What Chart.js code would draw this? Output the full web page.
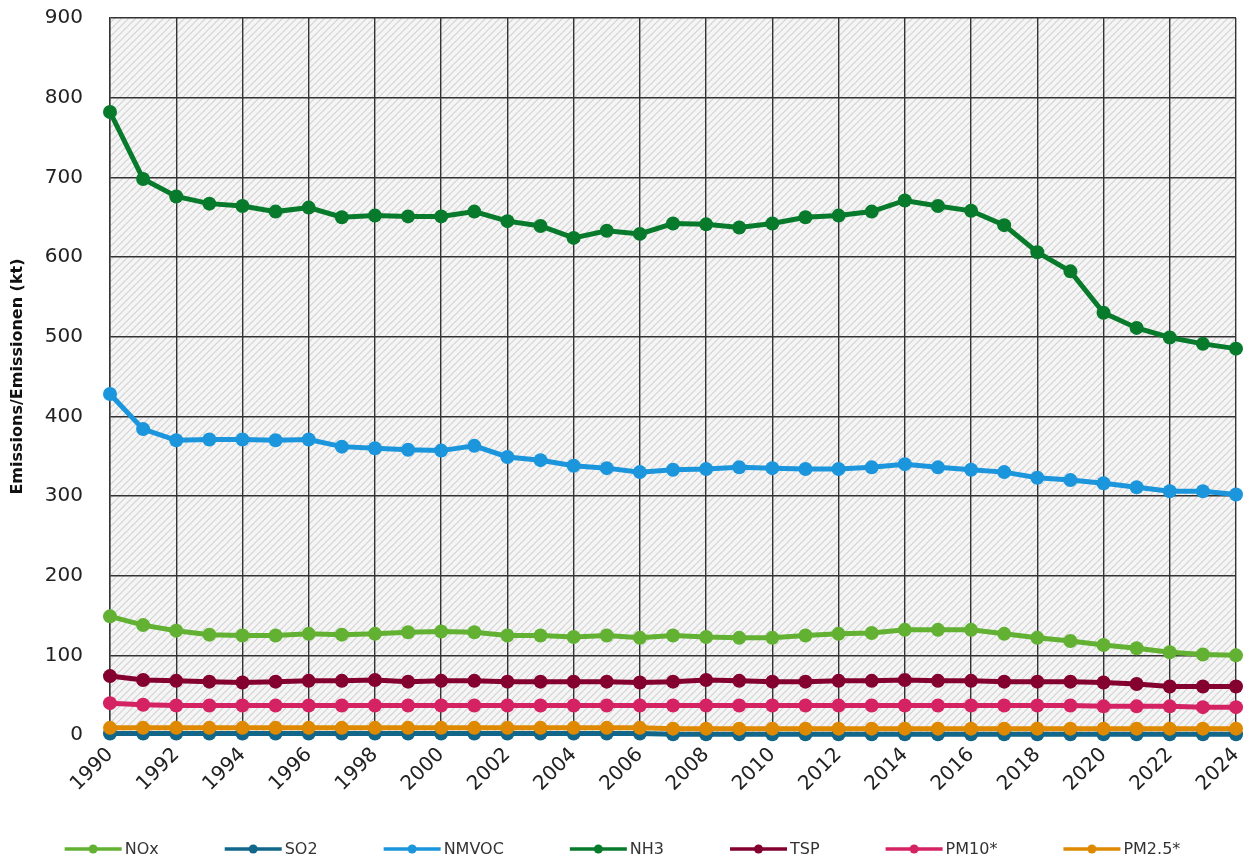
<!DOCTYPE html>
<html>
<head>
<meta charset="utf-8">
<script src="https://cdn.jsdelivr.net/npm/chart.js@4/dist/chart.umd.min.js"></script>
<style>
  html, body { margin: 0; padding: 0; background: #fff; }
  #wrap { width: 1245px; height: 860px; position: relative; }
</style>
</head>
<body>
<div id="wrap"><canvas id="chart"></canvas></div>
<script>
const years = [1990, 1991, 1992, 1993, 1994, 1995, 1996, 1997, 1998, 1999,
               2000, 2001, 2002, 2003, 2004, 2005, 2006, 2007, 2008, 2009,
               2010, 2011, 2012, 2013, 2014, 2015, 2016, 2017, 2018, 2019,
               2020, 2021, 2022, 2023, 2024];

const nox   = [149, 138, 131, 126, 125, 125, 127, 126, 127, 129, 130, 129, 125, 125, 123, 125, 122,
               125, 123, 122, 122, 125, 127, 128, 132, 132, 132, 127, 122, 118, 113, 109, 104, 101, 100];
const so2   = [2, 2, 2, 2, 2, 2, 2, 2, 2, 2, 2, 2, 2, 2, 2, 2, 2,
               1, 1, 1, 1, 1, 1, 1, 1, 1, 1, 1, 1, 1, 1, 1, 1, 1, 1];
const nmvoc = [428, 384, 370, 371, 371, 370, 371, 362, 360, 358, 357, 363, 349, 345, 338, 335, 330,
               333, 334, 336, 335, 334, 334, 336, 340, 336, 333, 330, 323, 320, 316, 311, 306, 306, 302];
const nh3   = [782, 698, 676, 667, 664, 657, 662, 650, 652, 651, 651, 657, 645, 639, 624, 633, 629,
               642, 641, 637, 642, 650, 652, 657, 671, 664, 658, 640, 606, 582, 530, 511, 499, 491, 485];
const tsp   = [74, 69, 68, 67, 66, 67, 68, 68, 69, 67, 68, 68, 67, 67, 67, 67, 66,
               67, 69, 68, 67, 67, 68, 68, 69, 68, 68, 67, 67, 67, 66, 64, 61, 61, 61];
const pm10  = [40, 38, 37, 37, 37, 37, 37, 37, 37, 37, 37, 37, 37, 37, 37, 37, 37,
               37, 37, 37, 37, 37, 37, 37, 37, 37, 37, 37, 37, 37, 36, 36, 36, 35, 35];
const pm25  = [9, 9, 9, 9, 9, 9, 9, 9, 9, 9, 9, 9, 9, 9, 9, 9, 9,
               8, 8, 8, 8, 8, 8, 8, 8, 8, 8, 8, 8, 8, 8, 8, 8, 8, 8];

const seriesNames = ['NOx', 'SO2', 'NMVOC', 'NH3', 'TSP', 'PM10*', 'PM2.5*'];
const seriesValues = [nox, so2, nmvoc, nh3, tsp, pm10, pm25];
const seriesColors = ['#62b133', '#12668a', '#1b95db', '#087a2c', '#83002f', '#d42262', '#de8900'];

const yTicks = [0, 100, 200, 300, 400, 500, 600, 700, 800, 900];

const FONT = '"DejaVu Sans", Verdana, sans-serif';

// hatched plot background
function makeHatch() {
    const c = document.createElement('canvas');
    c.width = 7;
    c.height = 7;
    const g = c.getContext('2d');
    g.fillStyle = '#f5f5f5';
    g.fillRect(0, 0, 7, 7);
    g.strokeStyle = '#d3d3d3';
    g.lineWidth = 1.2;
    g.beginPath();
    g.moveTo(-1, 8); g.lineTo(8, -1);
    g.moveTo(-1, 1); g.lineTo(1, -1);
    g.moveTo(6, 8); g.lineTo(8, 6);
    g.stroke();
    return c;
}

const hatchPlugin = {
    id: 'hatch',
    beforeDraw(chart) {
        const { ctx, chartArea } = chart;
        if (!chartArea) return;
        if (!chart._hatch) chart._hatch = ctx.createPattern(makeHatch(), 'repeat');
        ctx.save();
        ctx.fillStyle = chart._hatch;
        ctx.fillRect(chartArea.left, chartArea.top, chartArea.right - chartArea.left, chartArea.bottom - chartArea.top);
        ctx.restore();
    }
};

// Excel-like legend: line with a dot, items in one centred row
const lineLegendPlugin = {
    id: 'lineLegend',
    afterDraw(chart, args, opts) {
        const ctx = chart.ctx;
        const sets = chart.data.datasets;
        ctx.save();
        ctx.font = opts.fontSize + 'px ' + FONT;
        const widths = sets.map(d => opts.lineLength + opts.textGap + ctx.measureText(d.label).width);
        const total = widths.reduce((a, b) => a + b, 0) + opts.itemGap * (sets.length - 1);
        let x = (chart.width - total) / 2;
        const y = chart.height - opts.bottom;
        sets.forEach((d, i) => {
            ctx.strokeStyle = d.borderColor;
            ctx.lineWidth = 3.5;
            ctx.beginPath();
            ctx.moveTo(x, y);
            ctx.lineTo(x + opts.lineLength, y);
            ctx.stroke();
            ctx.fillStyle = d.borderColor;
            ctx.beginPath();
            ctx.arc(x + opts.lineLength / 2, y, 4.5, 0, Math.PI * 2);
            ctx.fill();
            ctx.fillStyle = '#333';
            ctx.textBaseline = 'middle';
            ctx.textAlign = 'left';
            ctx.fillText(d.label, x + opts.lineLength + opts.textGap, y + 1);
            x += widths[i] + opts.itemGap;
        });
        ctx.restore();
    }
};

const datasets = seriesNames.map((name, i) => ({
    label: name,
    data: years.map((yr, j) => ({ x: yr, y: seriesValues[i][j] })),
    borderColor: seriesColors[i],
    backgroundColor: seriesColors[i],
    borderWidth: 5,
    pointRadius: 7,
    pointHoverRadius: 7,
    pointBorderWidth: 0,
    tension: 0,
    clip: false,
    order: seriesNames.length - i   // later series on top, like the original
}));

new Chart(document.getElementById('chart'), {
    type: 'line',
    data: { datasets: datasets },
    plugins: [hatchPlugin, lineLegendPlugin],
    options: {
        responsive: true,
        maintainAspectRatio: false,
        animation: false,
        layout: { padding: { top: 18, right: 9, left: 8, bottom: 56 } },
        scales: {
            x: {
                type: 'linear',
                min: 1990,
                max: 2024,
                afterFit: (scale) => { scale.paddingRight = 0; scale.paddingLeft = 0; },
                grid: { color: '#333', lineWidth: 1.4, drawTicks: false },
                border: { color: '#333', width: 1.4 },
                ticks: {
                    stepSize: 2,
                    autoSkip: false,
                    maxRotation: 45,
                    minRotation: 45,
                    padding: 8,
                    color: '#222',
                    font: { family: FONT, size: 20 },
                    callback: (v) => String(v)
                }
            },
            y: {
                min: 0,
                max: 900,
                afterBuildTicks: (axis) => { axis.ticks = yTicks.map(v => ({ value: v })); },
                afterFit: (scale) => { scale.paddingTop = 0; scale.paddingBottom = 0; scale.width = 102; },
                grid: { color: '#333', lineWidth: 1.4, drawTicks: false },
                border: { color: '#333', width: 1.4 },
                ticks: {
                    padding: 27,
                    color: '#222',
                    font: { family: FONT, size: 20 }
                },
                title: {
                    display: true,
                    text: 'Emissions/Emissionen (kt)',
                    color: '#111',
                    padding: { top: 0, bottom: 10 },
                    font: { family: FONT, size: 16, weight: 'bold' }
                }
            }
        },
        plugins: {
            tooltip: { enabled: false },
            legend: { display: false },
            lineLegend: { fontSize: 16, lineLength: 57, textGap: 3, itemGap: 66, bottom: 11 }
        }
    }
});
</script>
</body>
</html>
